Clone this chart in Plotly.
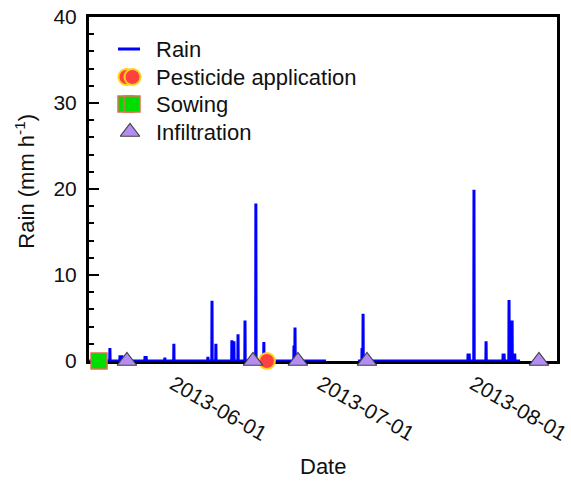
import plotly.graph_objects as go

# Hourly rain record (mm/h); None marks the gap in the record
rain_time = [
    "2013-05-16 00:00",
    "2013-05-20 04:00", "2013-05-20 05:00", "2013-05-20 06:00",
    "2013-05-22 05:00", "2013-05-22 06:00", "2013-05-22 16:00", "2013-05-22 17:00",
    "2013-05-27 07:00", "2013-05-27 08:00", "2013-05-27 14:00", "2013-05-27 15:00",
    "2013-05-31 08:00", "2013-05-31 09:00", "2013-05-31 10:00",
    "2013-06-02 04:00", "2013-06-02 05:00", "2013-06-02 06:00",
    "2013-06-09 02:00", "2013-06-09 03:00", "2013-06-09 04:00",
    "2013-06-09 22:00", "2013-06-09 23:00", "2013-06-10 00:00",
    "2013-06-10 17:00", "2013-06-10 18:00", "2013-06-10 19:00",
    "2013-06-13 23:00", "2013-06-14 00:00", "2013-06-14 01:00",
    "2013-06-14 04:00", "2013-06-14 05:00", "2013-06-14 06:00",
    "2013-06-14 09:00", "2013-06-14 10:00", "2013-06-14 11:00",
    "2013-06-15 05:00", "2013-06-15 06:00", "2013-06-15 07:00",
    "2013-06-16 15:00", "2013-06-16 16:00", "2013-06-16 17:00",
    "2013-06-18 20:00", "2013-06-18 21:00", "2013-06-18 22:00",
    "2013-06-20 11:00", "2013-06-20 12:00", "2013-06-20 13:00",
    "2013-06-26 14:00", "2013-06-26 15:00", "2013-06-26 16:00",
    "2013-06-26 19:00", "2013-06-26 20:00", "2013-06-26 21:00",
    "2013-07-03 03:00", "2013-07-03 04:00",
    "2013-07-09 15:00",
    "2013-07-10 10:00", "2013-07-10 11:00", "2013-07-10 12:00",
    "2013-07-10 15:00", "2013-07-10 16:00", "2013-07-10 17:00",
    "2013-07-31 23:00", "2013-08-01 00:00", "2013-08-01 06:00", "2013-08-01 07:00",
    "2013-08-02 04:00", "2013-08-02 05:00", "2013-08-02 06:00",
    "2013-08-04 15:00", "2013-08-04 16:00", "2013-08-04 17:00",
    "2013-08-08 02:00", "2013-08-08 03:00", "2013-08-08 08:00", "2013-08-08 09:00",
    "2013-08-09 07:00", "2013-08-09 08:00", "2013-08-09 09:00",
    "2013-08-09 22:00", "2013-08-09 23:00", "2013-08-10 00:00",
    "2013-08-10 07:00", "2013-08-10 08:00", "2013-08-10 12:00", "2013-08-10 13:00",
    "2013-08-11 14:00",
]
rain_mm = [
    0,
    0, 1.5, 0,
    0, 0.5, 0.5, 0,
    0, 0.4, 0.4, 0,
    0, 0.4, 0,
    0, 2.0, 0,
    0, 0.5, 0,
    0, 7.0, 0,
    0, 2.0, 0,
    0, 2.4, 0,
    0, 1.0, 0,
    0, 2.3, 0,
    0, 3.1, 0,
    0, 4.7, 0,
    0, 18.3, 0,
    0, 2.2, 0,
    0, 1.8, 0,
    0, 3.9, 0,
    0, None,
    0,
    0, 1.5, 0,
    0, 5.5, 0,
    0, 0.7, 0.7, 0,
    0, 19.9, 0,
    0, 2.3, 0,
    0, 0.7, 0.7, 0,
    0, 7.1, 0,
    0, 4.7, 0,
    0, 0.7, 0.7, 0,
    0,
]

pesticide_time = ["2013-06-21 03:00"]
pesticide_y = [0]
sowing_time = ["2013-05-18 00:00"]
sowing_y = [0]
infiltration_time = ["2013-05-23 16:00", "2013-06-18 07:00", "2013-06-27 10:00",
                     "2013-07-11 11:00", "2013-08-15 10:00"]
infiltration_y = [0, 0, 0, 0, 0]

# tick label anchor positions and their texts
tick_pos = ["2013-06-02 03:00", "2013-07-02 03:00", "2013-08-02 03:00"]
tick_labels = ["2013-06-01", "2013-07-01", "2013-08-01"]
y_ticks = [0, 10, 20, 30, 40]

legend_labels = ["Rain", "Pesticide application", "Sowing", "Infiltration"]

FONT = "Liberation Sans, Arial, sans-serif"
PEST = dict(symbol="circle", size=16, color="#FF4040", line=dict(color="#FFD21A", width=2))
SOW = dict(symbol="square", size=16, color="#00DD00", line=dict(color="#E07050", width=1.5))
INF = dict(symbol="triangle-up", size=17, color="#B48CF2", line=dict(color="#404040", width=1.2))

fig = go.Figure()
fig.add_trace(go.Scatter(
    x=rain_time, y=rain_mm, mode="lines", name="Rain",
    line=dict(color="#0000FF", width=3), connectgaps=False, cliponaxis=False))
fig.add_trace(go.Scatter(
    x=pesticide_time, y=pesticide_y, mode="markers", name="Pesticide application",
    marker=PEST, cliponaxis=False))
fig.add_trace(go.Scatter(
    x=sowing_time, y=sowing_y, mode="markers", name="Sowing",
    marker=SOW, cliponaxis=False))
fig.add_trace(go.Scatter(
    x=infiltration_time, y=infiltration_y, mode="markers", name="Infiltration",
    marker=INF, cliponaxis=False))

# Hand-drawn legend on an invisible pixel-like overlay (x: 0..468, y: 0..344)
lg_x_text = 65
lg_rows = [312, 284, 257, 229]
fig.add_trace(go.Scatter(x=[29, 51], y=[lg_rows[0]] * 2, mode="lines",
                         line=dict(color="#0000FF", width=3),
                         xaxis="x2", yaxis="y2", showlegend=False, hoverinfo="skip"))
fig.add_trace(go.Scatter(x=[37.5, 43.5], y=[lg_rows[1]] * 2, mode="markers", marker=PEST,
                         xaxis="x2", yaxis="y2", showlegend=False, hoverinfo="skip",
                         cliponaxis=False))
fig.add_trace(go.Scatter(x=[37, 43], y=[lg_rows[2]] * 2, mode="markers", marker=SOW,
                         xaxis="x2", yaxis="y2", showlegend=False, hoverinfo="skip",
                         cliponaxis=False))
fig.add_trace(go.Scatter(x=[41], y=[lg_rows[3]], mode="markers", marker=INF,
                         xaxis="x2", yaxis="y2", showlegend=False, hoverinfo="skip",
                         cliponaxis=False))

annotations = [
    dict(text=t, xref="x2", yref="y2", x=lg_x_text, y=yy, xanchor="left",
         yanchor="middle", showarrow=False, font=dict(size=22))
    for t, yy in zip(legend_labels, lg_rows)
]
annotations += [
    dict(text="Rain (mm h<sup>-1</sup>)", xref="paper", yref="paper",
         x=-0.137, y=0.524, xanchor="center", yanchor="middle",
         textangle=-90, showarrow=False, font=dict(size=22)),
    dict(text="Date", xref="paper", yref="paper",
         x=0.5, y=-0.308, xanchor="center", yanchor="middle",
         showarrow=False, font=dict(size=22)),
]

fig.update_layout(
    width=571, height=483,
    margin=dict(l=89, r=14, t=17, b=122, autoexpand=False),
    paper_bgcolor="white", plot_bgcolor="white",
    font=dict(family=FONT, size=21, color="#111111"),
    showlegend=False,
    xaxis=dict(
        type="date", range=["2013-05-15 23:00", "2013-08-19 02:00"],
        tickmode="array", tickvals=tick_pos, ticktext=tick_labels,
        tickangle=30, ticks="", showgrid=False, zeroline=False,
        showline=True, linecolor="black", linewidth=3, mirror=True,
        layer="below traces", tickfont=dict(size=21),
        ticklabeloverflow="allow", automargin=False),
    yaxis=dict(
        range=[0, 40], tickmode="array", tickvals=y_ticks,
        ticks="inside", ticklen=10, tickwidth=2, tickcolor="black",
        minor=dict(dtick=2, ticks="inside", ticklen=5, tickwidth=1.5, tickcolor="black"),
        showgrid=False, zeroline=False,
        showline=True, linecolor="black", linewidth=3, mirror=True,
        layer="below traces", tickfont=dict(size=21), ticklabelstandoff=5,
        automargin=False),
    xaxis2=dict(overlaying="x", range=[0, 468], visible=False, fixedrange=True),
    yaxis2=dict(overlaying="y", range=[0, 344], visible=False, fixedrange=True),
    annotations=annotations,
)

fig.write_html("out.html")
